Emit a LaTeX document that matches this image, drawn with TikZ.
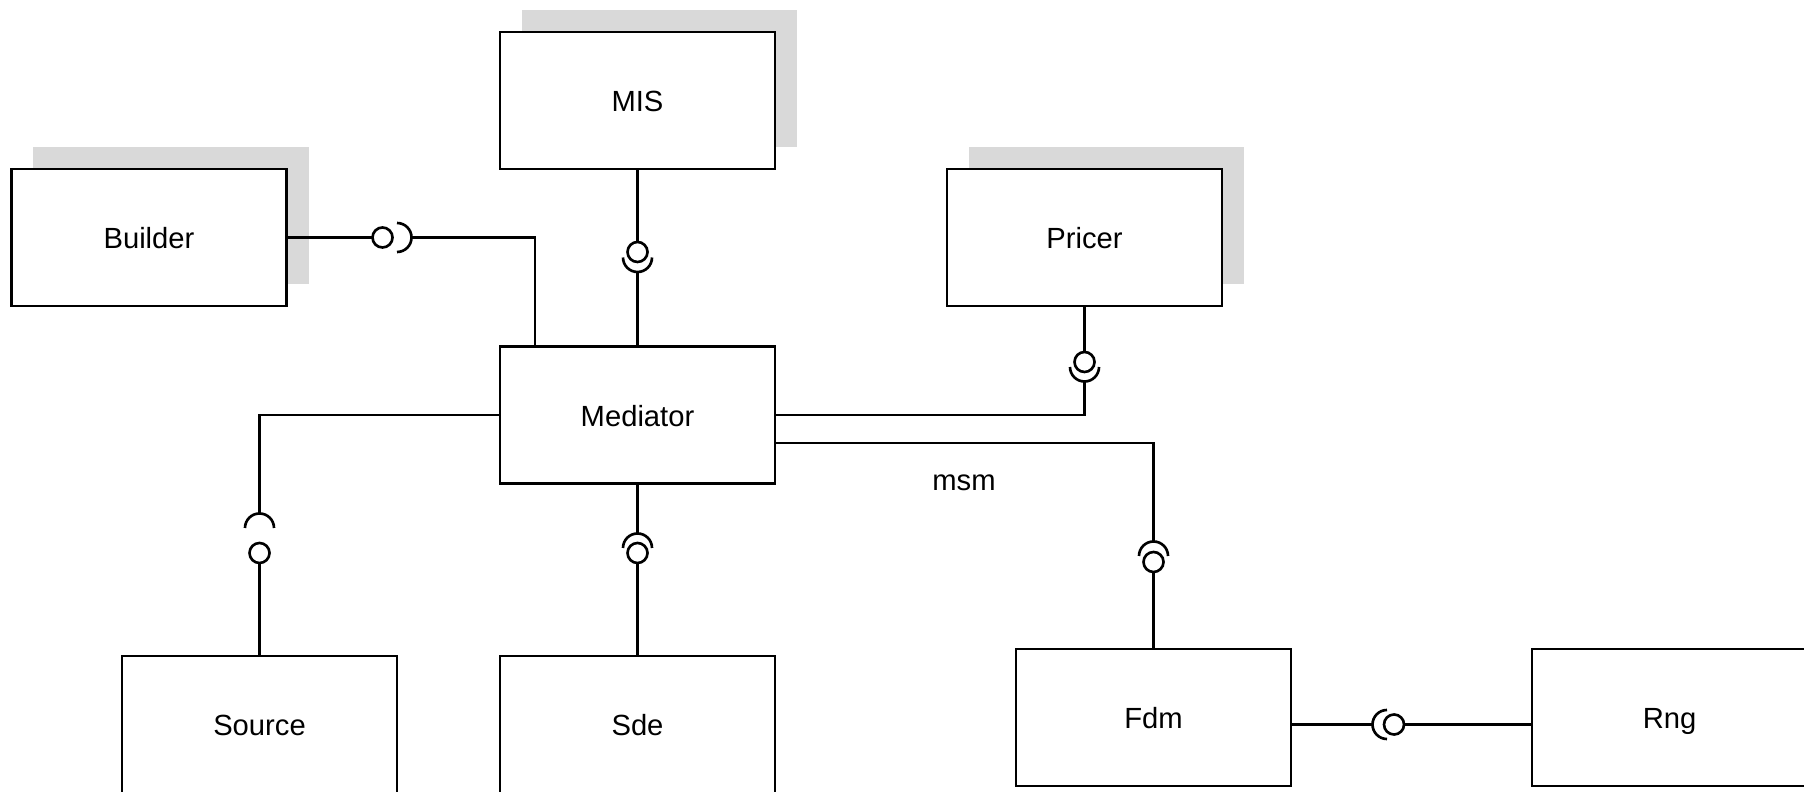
\documentclass[tikz,border=0pt]{standalone}
\usepackage{fontspec}
\setmainfont{Liberation Sans}
\usetikzlibrary{positioning,shadows}
\definecolor{ushadow}{HTML}{D9D9D9}
\tikzset{
  comp/.style={draw,line width=0.75pt,fill=white,minimum width=2.75cm,minimum height=1.37cm,inner sep=0pt,outer sep=0pt,text height=1.6ex,text depth=0.4ex,font=\fontsize{8.3}{10}\selectfont},
  shad/.style={drop shadow={shadow xshift=0.22cm,shadow yshift=0.22cm,fill=ushadow,opacity=1}},
  ball/.style={circle,draw,line width=0.75pt,fill=white,minimum size=0.2cm,inner sep=0pt,outer sep=0pt},
  wire/.style={line width=0.75pt},
  lbl/.style={font=\fontsize{8.3}{10}\selectfont},
}
\begin{document}
\begin{tikzpicture}[x=0.01cm,y=-0.01cm]
  \useasboundingbox (0,0) rectangle (1804,792);
  % komponenten
  \node[comp,shad] (mis) at (637.5,100.5) {MIS};
  \node[comp,shad] (builder) at (149,237.5) {Builder};
  \node[comp,shad] (pricer) at (1084.5,237.5) {Pricer};
  \node[comp] (mediator) at (637.5,415) {Mediator};
  \node[comp] (source) at (259.5,724.5) {Source};
  \node[comp] (sde) at (637.5,724.5) {Sde};
  \node[comp] (fdm) at (1153.5,717.5) {Fdm};
  \node[comp] (rng) at (1669.5,717.5) {Rng};
  \node[lbl] (msm) at (964,483) {msm};
  % builder - mediator
  \node[ball] (b1) at (382.5,237.5) {};
  \coordinate (s1) at (397,237.5);
  \draw[wire] (builder) -- (b1);
  \draw[wire] ([yshift=0.145cm]s1) arc[start angle=90,end angle=-90,radius=0.145cm];
  \draw[wire] ([xshift=0.145cm]s1) -| ([xshift=-1.025cm]mediator.north);
  % mis - mediator
  \node[ball] (b2) at (637.5,252) {};
  \coordinate (s2) at (637.5,257.5);
  \draw[wire] (mis) -- (b2);
  \draw[wire] ([xshift=-0.145cm]s2) arc[start angle=180,end angle=360,radius=0.145cm];
  \draw[wire] ([yshift=-0.145cm]s2) -- (mediator);
  % pricer - mediator
  \node[ball] (b3) at (1084.5,362) {};
  \coordinate (s3) at (1084.5,367);
  \draw[wire] (pricer) -- (b3);
  \draw[wire] ([xshift=-0.145cm]s3) arc[start angle=180,end angle=360,radius=0.145cm];
  \draw[wire] ([yshift=-0.145cm]s3) |- (mediator.east);
  % mediator - source
  \coordinate (s4) at (259.5,528);
  \node[ball] (b4) at (259.5,553) {};
  \draw[wire] (mediator.west) -| ([yshift=0.145cm]s4);
  \draw[wire] ([xshift=-0.145cm]s4) arc[start angle=180,end angle=0,radius=0.145cm];
  \draw[wire] (b4) -- (source);
  % mediator - sde
  \coordinate (s5) at (637.5,548);
  \node[ball] (b5) at (637.5,553) {};
  \draw[wire] (mediator) -- ([yshift=0.145cm]s5);
  \draw[wire] ([xshift=-0.145cm]s5) arc[start angle=180,end angle=0,radius=0.145cm];
  \draw[wire] (b5) -- (sde);
  % mediator - fdm
  \coordinate (s6) at (1153.5,556);
  \node[ball] (b6) at (1153.5,562) {};
  \draw[wire] ([yshift=-0.28cm]mediator.east) -| ([yshift=0.145cm]s6);
  \draw[wire] ([xshift=-0.145cm]s6) arc[start angle=180,end angle=0,radius=0.145cm];
  \draw[wire] (b6) -- (fdm);
  % fdm - rng
  \coordinate (s7) at (1387,724.5);
  \node[ball] (b7) at (1394,724.5) {};
  \draw[wire] ([yshift=-0.07cm]fdm.east) -- ([xshift=-0.145cm]s7);
  \draw[wire] ([yshift=0.145cm]s7) arc[start angle=90,end angle=270,radius=0.145cm];
  \draw[wire] (b7) -- (b7 -| rng.west);
\end{tikzpicture}
\end{document}
